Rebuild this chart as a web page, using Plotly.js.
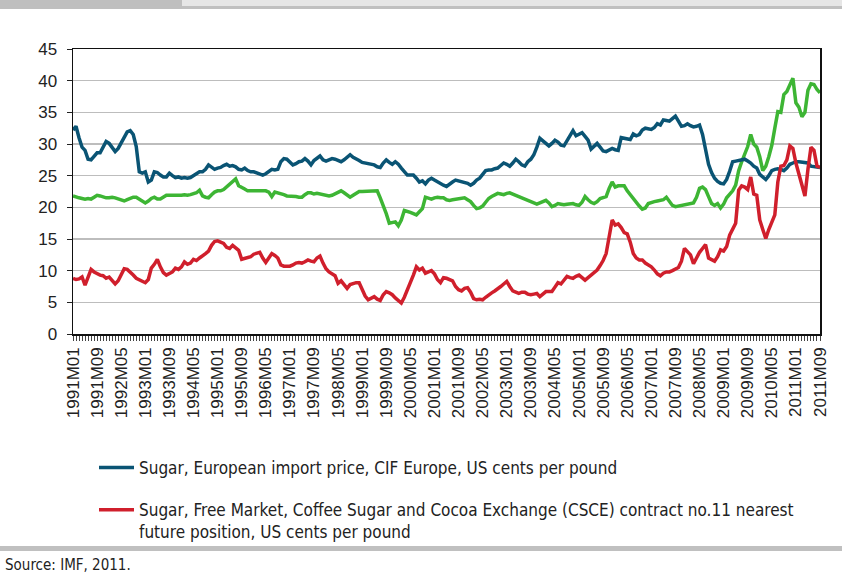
<!DOCTYPE html>
<html>
<head>
<meta charset="utf-8">
<script src="https://cdn.plot.ly/plotly-3.0.1.min.js"></script>
<style>
html,body{margin:0;padding:0;background:#fff;}
#chart{width:842px;height:576px;}
</style>
</head>
<body>
<div id="chart"></div>
<script>
// Monthly periods 1991M01 .. 2011M09
var startYear = 1991, endYear = 2011, endMonth = 9;
var months = [];
for (var y = startYear; y <= endYear; y++) {
  for (var m = 1; m <= 12; m++) {
    if (y === endYear && m > endMonth) break;
    months.push(y + 'M' + (m < 10 ? '0' + m : '' + m));
  }
}
// Tick labels shown every 8 months
var tickLabels = ['1991M01','1991M09','1992M05','1993M01','1993M09','1994M05','1995M01','1995M09','1996M05','1997M01','1997M09','1998M05','1999M01','1999M09','2000M05','2001M01','2001M09','2002M05','2003M01','2003M09','2004M05','2005M01','2005M09','2006M05','2007M01','2007M09','2008M05','2009M01','2009M09','2010M05','2011M01','2011M09'];

// Sugar, European import price, CIF Europe (US cents/lb)
var euImport = [
32.2,32.8,31.0,29.5,29.0,27.6,27.5,28.0,28.6,28.6,29.5,30.4,30.1,29.5,28.8,29.3,30.2,31.0,31.9,32.1,
31.5,29.6,25.6,25.4,25.6,24.0,24.3,25.6,25.5,25.1,24.8,24.8,25.4,25.0,24.7,24.8,24.6,24.7,24.6,24.7,
25.0,25.3,25.6,25.6,26.0,26.7,26.4,26.0,26.2,26.3,26.6,26.8,26.5,26.6,26.4,26.0,25.9,26.2,25.8,25.6,
25.6,25.4,25.3,25.1,25.3,25.7,26.0,25.9,26.0,27.2,27.7,27.6,27.2,26.7,26.9,27.2,27.3,27.7,27.3,26.7,
27.4,27.8,28.1,27.5,27.3,27.5,27.7,27.6,27.4,27.2,27.5,28.0,28.3,27.9,27.7,27.4,27.1,27.0,26.9,26.8,
26.7,26.4,26.3,27.0,27.5,27.1,26.8,27.2,26.8,26.2,25.6,25.1,25.1,25.1,24.6,24.0,24.2,23.7,24.3,24.6,
24.3,24.0,23.8,23.5,23.3,23.7,24.0,24.3,24.2,24.0,24.0,23.8,23.5,23.8,24.3,24.6,25.2,25.8,25.9,25.9,
26.1,26.2,26.6,27.0,26.8,26.5,27.0,27.6,27.2,26.7,26.5,27.2,27.6,28.3,29.5,30.9,30.5,30.0,29.7,30.1,
30.6,30.3,29.8,29.7,30.5,31.4,32.1,31.3,31.5,31.8,31.2,30.6,29.2,29.6,30.1,29.5,28.9,28.8,29.1,29.3,
29.1,29.0,31.0,30.9,30.8,30.7,31.6,31.3,31.5,32.2,32.5,32.4,32.3,32.6,33.2,33.0,33.8,33.7,33.6,34.0,
34.4,33.6,32.8,32.9,33.2,32.9,32.7,32.8,33.0,31.5,29.0,26.8,25.5,24.6,24.1,23.8,23.7,24.4,25.7,27.2,
27.3,27.4,27.5,27.6,27.3,27.0,26.5,26.2,25.2,24.7,24.4,25.0,25.8,26.0,26.1,26.0,25.8,26.2,26.8,27.0,
27.2,27.2,27.1,27.0,27.0,26.5,26.4,26.3,26.3];

// Sugar, US import price (green series, not in legend)
var usImport = [
21.8,21.6,21.5,21.4,21.3,21.4,21.3,21.6,21.9,21.8,21.6,21.5,21.5,21.6,21.5,21.3,21.2,21.0,21.2,21.4,
21.6,21.6,21.3,21.0,20.7,21.0,21.4,21.6,21.3,21.3,21.6,21.9,21.9,21.9,21.8,21.9,21.9,22.0,21.9,22.0,
22.1,22.3,22.7,21.8,21.6,21.5,22.0,22.4,22.6,22.6,22.8,23.2,23.6,24.0,24.5,23.4,23.2,22.9,22.6,22.6,
22.6,22.5,22.6,22.6,22.6,22.4,21.7,22.4,22.3,22.2,22.0,21.8,21.8,21.7,21.7,21.6,21.6,22.0,22.3,22.3,
22.1,22.2,22.1,22.0,21.9,21.8,21.9,22.1,22.4,22.6,22.3,21.9,21.6,21.9,22.2,22.5,22.5,22.5,22.6,22.6,
22.6,22.6,21.5,20.3,19.0,17.5,17.6,17.7,17.1,18.0,19.5,19.4,19.2,19.0,18.8,19.3,19.8,21.6,21.4,21.3,
21.5,21.6,21.5,21.5,21.2,21.1,21.2,21.3,21.3,21.4,21.5,21.2,20.9,20.3,19.8,19.9,20.2,20.8,21.4,21.7,
22.0,22.2,22.1,22.0,22.2,22.3,22.1,21.9,21.7,21.5,21.3,21.1,21.0,20.7,20.5,20.7,20.9,21.1,20.7,20.1,
20.3,20.6,20.5,20.4,20.5,20.5,20.6,20.4,20.3,20.8,21.7,21.2,20.8,20.6,20.9,21.4,21.5,21.7,23.0,24.0,
23.2,23.4,23.4,23.4,22.6,22.0,21.3,20.6,20.2,19.7,19.9,20.6,20.8,20.9,21.0,21.1,21.2,21.6,20.9,20.3,
20.1,20.2,20.2,20.3,20.4,20.5,20.7,21.6,23.0,23.2,22.8,21.7,20.6,20.3,20.6,19.9,20.5,21.5,22.0,22.6,
23.5,25.8,27.2,28.5,29.6,31.5,30.0,29.5,28.0,25.8,26.5,28.0,29.8,32.5,35.1,35.0,37.8,38.3,39.5,40.4,
36.5,35.8,34.3,35.0,38.5,39.5,39.4,38.6,38.1];

// Sugar, Free Market, CSCE contract no.11 nearest future (US cents/lb)
var freeMarket = [
8.8,8.6,8.7,9.0,7.7,8.8,10.2,9.8,9.5,9.3,9.2,8.8,9.0,8.5,7.9,8.4,9.5,10.3,10.2,9.8,
9.3,8.8,8.6,8.3,8.1,8.6,10.4,11.0,11.8,10.6,9.7,9.3,9.6,9.8,10.4,10.2,10.6,11.4,11.0,11.2,
11.8,11.6,12.0,12.3,12.7,13.1,14.0,14.6,14.7,14.5,14.3,13.7,13.5,14.0,13.6,13.2,11.8,11.9,12.0,12.2,
12.6,12.8,12.9,12.0,11.3,12.0,12.7,12.4,12.0,10.9,10.7,10.7,10.7,10.9,11.2,11.3,11.2,11.4,11.7,11.5,
11.4,12.0,12.3,11.2,10.3,9.8,9.5,9.2,8.0,8.4,7.8,7.2,7.8,8.0,8.1,8.1,7.0,6.0,5.4,5.7,
5.9,5.5,5.3,6.2,6.7,6.5,6.2,5.7,5.2,4.9,5.8,6.9,8.2,9.3,10.6,10.1,10.4,9.6,9.8,10.0,
9.5,8.6,8.1,8.9,8.8,8.6,8.4,7.5,7.0,6.8,7.2,7.3,6.6,5.6,5.4,5.5,5.4,5.8,6.2,6.5,
6.8,7.1,7.5,7.9,8.3,7.5,6.8,6.6,6.4,6.6,6.6,6.3,6.2,6.3,6.4,5.9,6.3,6.7,6.7,6.7,
7.4,8.1,7.9,8.5,9.1,8.9,8.8,9.1,9.3,8.9,8.5,8.9,9.3,9.7,10.1,10.8,11.6,12.7,15.5,18.0,
17.2,17.4,16.8,16.0,15.8,14.5,12.7,12.0,11.7,11.7,11.2,10.9,10.6,10.1,9.5,9.2,9.6,9.8,9.8,10.0,
10.2,10.5,11.5,13.5,13.0,12.5,11.1,12.0,12.9,13.5,14.1,12.0,11.7,11.5,12.2,13.3,13.1,13.8,15.6,16.5,
17.5,22.7,23.4,23.2,22.8,24.8,22.1,21.9,18.0,16.5,15.1,16.5,17.5,18.8,24.0,26.5,26.6,27.5,29.7,29.3,
27.0,25.4,23.5,21.8,26.0,29.5,29.0,26.5,26.3];

var seriesNames = [
  'Sugar, European import price, CIF Europe, US cents per pound',
  'Sugar, Free Market, Coffee Sugar and Cocoa Exchange (CSCE) contract no.11 nearest<br>future position, US cents per pound'
];
var sourceText = 'Source: IMF, 2011.';

var tickText = months.map(function (mm) { return tickLabels.indexOf(mm) >= 0 ? mm : ''; });

var traces = [
  {x: months, y: usImport, type: 'scatter', mode: 'lines', showlegend: false,
   line: {color: '#3db534', width: 3.5}, hoverinfo: 'skip'},
  {x: months, y: euImport, type: 'scatter', mode: 'lines', name: seriesNames[0], legendgroup: 'a',
   line: {color: '#0a5474', width: 3.5}},
  {x: months, y: freeMarket, type: 'scatter', mode: 'lines', name: seriesNames[1], legendgroup: 'b',
   line: {color: '#d01f2c', width: 3.5}}
];

var condensed = '"Liberation Sans Narrow", "DejaVu Sans Condensed", "Liberation Sans", sans-serif';

// plot-area geometry helpers (paper fractions)
var PW = 747, PH = 285, PL = 73, PT = 49;
function px(x) { return (x - PL) / PW; }
function py(y) { return (PT + PH - y) / PH; }

var layout = {
  width: 842, height: 576,
  margin: {l: 73, r: 22, t: 49, b: 242},
  paper_bgcolor: '#ffffff', plot_bgcolor: '#ffffff',
  font: {family: '"Liberation Sans", Arial, sans-serif', size: 17, color: '#222222'},
  xaxis: {
    type: 'category', range: [0, months.length - 1],
    tickmode: 'array', tickvals: months, ticktext: tickText,
    tickangle: -90, ticks: 'outside', ticklen: 5, tickwidth: 1, tickcolor: '#444',
    showline: true, linecolor: '#111', linewidth: 1.5, mirror: true,
    showgrid: false, zeroline: false, fixedrange: true,
    tickfont: {family: '"Liberation Sans", Arial, sans-serif', size: 17, color: '#222'}
  },
  yaxis: {
    range: [0, 45], tickmode: 'linear', tick0: 0, dtick: 5,
    ticks: 'outside', ticklen: 5, tickcolor: '#222',
    showline: true, linecolor: '#111', linewidth: 1.5, mirror: true,
    showgrid: true, gridcolor: '#bdbdbd', gridwidth: 1.5, zeroline: false,
    ticklabelstandoff: 6,
    tickfont: {family: '"Liberation Sans", Arial, sans-serif', size: 17, color: '#222'}
  },
  showlegend: true,
  legend: {
    x: px(94), y: py(450), xanchor: 'left', yanchor: 'top',
    orientation: 'v', valign: 'top', tracegroupgap: 17,
    itemwidth: 35, bgcolor: 'rgba(0,0,0,0)',
    font: {family: condensed, size: 17, color: '#222'}
  },
  shapes: [
    {type: 'rect', xref: 'paper', yref: 'paper', x0: px(0), x1: px(182), y0: py(0), y1: py(9),
     fillcolor: '#bfbfbf', line: {width: 0}, layer: 'above'},
    {type: 'rect', xref: 'paper', yref: 'paper', x0: px(182), x1: px(842), y0: py(0), y1: py(6),
     fillcolor: '#e6e6e6', line: {width: 0}, layer: 'above'},
    {type: 'rect', xref: 'paper', yref: 'paper', x0: px(182), x1: px(842), y0: py(6), y1: py(9),
     fillcolor: '#c0c0c0', line: {width: 0}, layer: 'above'},
    {type: 'rect', xref: 'paper', yref: 'paper', x0: px(0), x1: px(842), y0: py(546), y1: py(551),
     fillcolor: '#c0c0c0', line: {width: 0}}
  ],
  annotations: [
    {text: sourceText, xref: 'paper', yref: 'paper', x: px(3), y: py(554),
     xanchor: 'left', yanchor: 'top', showarrow: false,
     font: {family: condensed, size: 15, color: '#222'}}
  ]
};

Plotly.newPlot('chart', traces, layout, {staticPlot: true, displayModeBar: false});
</script>
</body>
</html>
